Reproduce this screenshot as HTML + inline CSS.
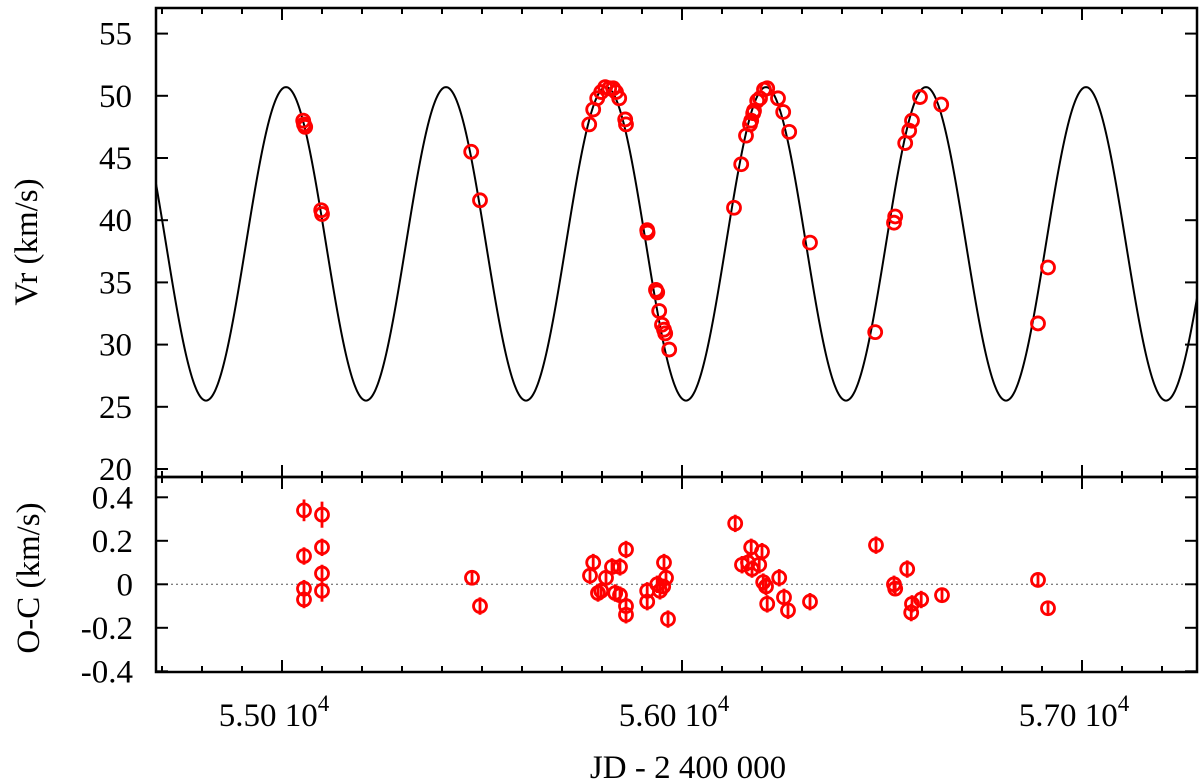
<!DOCTYPE html>
<html><head><meta charset="utf-8"><style>
html,body{margin:0;padding:0;background:#fff;}
svg{display:block;font-family:"Liberation Serif","DejaVu Serif",serif;}
text{font-family:"Liberation Serif","DejaVu Serif",serif;}
</style></head><body>
<svg id="chart" width="1200" height="782" viewBox="0 0 1200 782" xmlns="http://www.w3.org/2000/svg"></svg>
<script>
// ---- data ----
const rvJD = [55053,55055,55058,55098,55100,55473,55495,55768,55778,55788,55798,55808,55818,55828,55835,55843,55858,55860,55913,55914,55935,55938,55943,55950,55955,55958,55968,56130,56148,56160,56170,56173,56178,56180,56188,56195,56205,56213,56240,56253,56268,56320,56483,56530,56533,56558,56568,56575,56595,56648,56890,56915];
const rvVal = [48.0,47.7,47.5,40.8,40.5,45.5,41.6,47.7,48.9,49.8,50.3,50.7,50.6,50.6,50.3,49.8,48.1,47.7,39.2,39.0,34.4,34.2,32.7,31.6,31.2,30.9,29.6,41.0,44.5,46.8,47.7,48.0,48.6,48.8,49.6,49.8,50.5,50.6,49.8,48.7,47.1,38.2,31.0,39.8,40.3,46.2,47.2,48.0,49.9,49.3,31.7,36.2];
const ocJD = [55055,55055,55055,55055,55100,55100,55100,55100,55475,55495,55770,55778,55790,55798,55810,55825,55833,55845,55845,55860,55860,55860,55913,55913,55938,55945,55953,55955,55960,55965,56133,56150,56165,56173,56175,56193,56200,56203,56210,56213,56243,56255,56265,56320,56485,56530,56533,56563,56573,56575,56598,56650,56890,56915];
const ocVal = [0.34,0.13,-0.02,-0.07,0.32,0.17,0.05,-0.03,0.03,-0.10,0.04,0.10,-0.04,-0.03,0.03,0.08,-0.04,0.08,-0.05,0.16,-0.10,-0.14,-0.03,-0.08,0.0,-0.03,-0.01,0.10,0.03,-0.16,0.28,0.09,0.10,0.17,0.07,0.09,0.15,0.01,-0.01,-0.09,0.03,-0.06,-0.12,-0.08,0.18,0.0,-0.02,0.07,-0.13,-0.09,-0.07,-0.05,0.02,-0.11];
const ocErr = [0.05,0.04,0.04,0.04,0.06,0.04,0.04,0.05,0.03,0.04,0.04,0.04,0.04,0.04,0.04,0.04,0.04,0.04,0.04,0.04,0.04,0.04,0.04,0.04,0.04,0.04,0.03,0.04,0.04,0.04,0.04,0.04,0.04,0.04,0.04,0.04,0.04,0.04,0.04,0.04,0.04,0.04,0.04,0.04,0.04,0.04,0.03,0.04,0.04,0.04,0.04,0.03,0.03,0.03];
const orbitParams = [38.1, 12.6, 400, 55810]; // gamma, K, period, T_peak
const xTicks = [55000, 56000, 57000];
const xTickLabels = ["5.50 10", "5.60 10", "5.70 10"];
const rvTicks = [20,25,30,35,40,45,50,55];
const ocTicks = [-0.4,-0.2,0,0.2,0.4];
const ocTickLabels = ["-0.4","-0.2","0","0.2","0.4"];

// ---- layout ----
const L=156, R=1197, T1=8, B1=477, B2=672;
const jdMin=54685, jdMax=57287.5;
const X = jd => L + (jd - jdMin)/(jdMax - jdMin)*(R - L);
const Y1 = v => 469 - (v - 20)*12.44;
const Y2 = v => 584.3 - v*217.5;
const NS="http://www.w3.org/2000/svg";
const FF='"Liberation Serif","DejaVu Serif",serif';
const svg=document.getElementById('chart');
function mk(tag, attrs, parent){const e=document.createElementNS(NS,tag);for(const k in attrs)e.setAttribute(k,attrs[k]);if(tag==='text')e.setAttribute('font-family',FF);(parent||svg).appendChild(e);return e;}

const defs=mk('defs',{});
const c1=mk('clipPath',{id:'c1'},defs); mk('rect',{x:L,y:T1,width:R-L,height:B1-T1},c1);

const zl=mk('line',{x1:L,x2:R,y1:Y2(0),y2:Y2(0),stroke:'#555','stroke-width':1,'stroke-dasharray':'2,3'});



let d='';
for(let px=L;px<=R;px+=1){
  const jd=jdMin+(px-L)/(R-L)*(jdMax-jdMin);
  const v=orbitParams[0]+orbitParams[1]*Math.cos(2*Math.PI*(jd-orbitParams[3])/orbitParams[2]);
  d+=(px===L?'M':'L')+px.toFixed(1)+','+Y1(v).toFixed(2);
}
const curve=mk('path',{d:d,fill:'none',stroke:'#000','stroke-width':2,'clip-path':'url(#c1)'});



for(let i=0;i<rvJD.length;i++){
  const c=mk('circle',{cx:X(rvJD[i]),cy:Y1(rvVal[i]),r:6.5,fill:'none',stroke:'#f00','stroke-width':2.8});
  
  
}
for(let i=0;i<ocJD.length;i++){
  const x=X(ocJD[i]);
  const eb=mk('line',{x1:x,x2:x,y1:Y2(ocVal[i]+ocErr[i]),y2:Y2(ocVal[i]-ocErr[i]),stroke:'#f00','stroke-width':2.8});
  
  
  const c=mk('circle',{cx:x,cy:Y2(ocVal[i]),r:6.5,fill:'none',stroke:'#f00','stroke-width':2.8});
  
  
}

const f1=mk('rect',{x:L,y:T1,width:R-L,height:B1-T1,fill:'none',stroke:'#000','stroke-width':2.5});


const f2=mk('rect',{x:L,y:B1,width:R-L,height:B2-B1,fill:'none',stroke:'#000','stroke-width':2.5});



for(let jd=54700; jd<=jdMax; jd+=100){
  const x=X(jd); const major=(jd%1000===0); const len=major?12:6;
  [[T1,1],[B1,-1],[B1,1],[B2,-1]].forEach(([y,s])=>{
    const t=mk('line',{x1:x,x2:x,y1:y,y2:y+s*len,stroke:'#000','stroke-width':2});
    
    
  });
}
xTicks.forEach((jd,i)=>{
  const t=mk('text',{x:X(jd)-8,y:726,'font-size':33,'text-anchor':'middle'});
  t.textContent=xTickLabels[i];
  const sup=mk('tspan',{dy:-15,'font-size':23},t); sup.textContent='4';
  
  
});
rvTicks.forEach(v=>{
  const y=Y1(v);
  [[L,1],[R,-1]].forEach(([x,s])=>{
    const t=mk('line',{x1:x,x2:x+s*12,y1:y,y2:y,stroke:'#000','stroke-width':2});
    
    
  });
  const lb=mk('text',{x:132,y:y+11,'font-size':33,'text-anchor':'end'});
  lb.textContent=String(v);
  
  
});
ocTicks.forEach((v,i)=>{
  const y=Y2(v);
  [[L,1],[R,-1]].forEach(([x,s])=>{
    const t=mk('line',{x1:x,x2:x+s*12,y1:y,y2:y,stroke:'#000','stroke-width':2});
    
    
  });
  const lb=mk('text',{x:133,y:y+11,'font-size':33,'text-anchor':'end'});
  lb.textContent=ocTickLabels[i];
  
  
});
const yt1=mk('text',{x:37,y:242,'font-size':33,'text-anchor':'middle',transform:'rotate(-90 37 242)'});
yt1.textContent='Vr (km/s)';


const yt2=mk('text',{x:39,y:578,'font-size':33,'text-anchor':'middle',transform:'rotate(-90 39 578)'});
yt2.textContent='O-C (km/s)';


const xt=mk('text',{x:688,y:778,'font-size':33,'text-anchor':'middle'});
xt.textContent='JD - 2 400 000';


</script>
</body></html>
